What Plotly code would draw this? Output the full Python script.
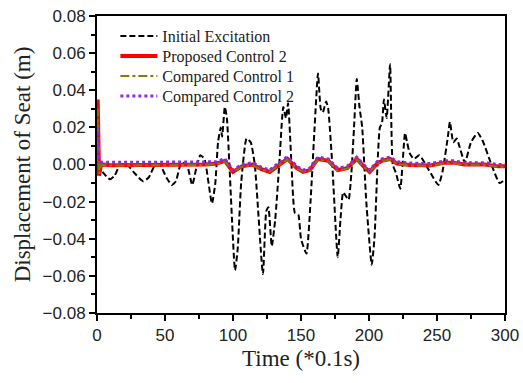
import plotly.graph_objects as go

# Initial excitation
t_exc = [0, 4, 9.5, 13, 17, 22, 28, 34, 38, 43, 47, 51, 55, 58, 62, 66, 70, 73, 76, 79,
         84.5, 87, 89, 91, 92, 94, 95.5, 101.5, 103.5, 106, 110, 113, 116, 122, 124.5, 126,
         128.5, 131, 134, 137, 139, 140.5, 143, 145.5, 148, 150, 154, 157, 160, 162.5, 164.5,
         166, 168.5, 170, 173, 177, 179, 181, 183, 185, 187, 189, 191, 193, 195, 198, 202,
         204, 206.5, 208, 209.5, 211, 213, 215.5, 217.5, 220, 223, 226.5, 228, 230, 233, 237,
         244, 251, 254, 258, 259.5, 262, 264.5, 266, 270.5, 275, 280, 284, 290, 296, 300]
v_exc = [0.0, -0.004, -0.008, -0.006, 0.0, 0.0, -0.005, -0.009, -0.007, 0.0, -0.001, -0.007,
         -0.011, -0.009, 0.001, 0.0, -0.011, -0.002, 0.005, 0.003,
         -0.021, -0.01, 0.012, 0.02, 0.015, 0.031, 0.025, -0.057, -0.045, -0.01, 0.014, 0.012,
         0.0, -0.059, -0.025, -0.023,
         -0.044, -0.03, 0.0, 0.031, 0.025, 0.033, 0.0, -0.026, -0.027, -0.04, -0.048, -0.02,
         0.02, 0.049, 0.03,
         0.028, 0.034, 0.03, 0.0, -0.05, -0.03, -0.015, -0.017, -0.019, -0.005, 0.02, 0.046,
         0.031, 0.02, -0.02, -0.054,
         -0.04, 0.004, 0.02, 0.022, 0.035, 0.025, 0.054, 0.0, -0.005, -0.013, 0.017, 0.012,
         0.006, 0.003, 0.005,
         -0.003, -0.011, -0.004, 0.015, 0.023, 0.012, 0.014, 0.011, 0.001, 0.012, 0.017, 0.012,
         0.0, -0.01, -0.008]

# Controlled responses
t_ctl = [0, 0.5, 1.5, 3, 10, 20, 30, 40, 50, 60, 70, 80, 88, 94, 100, 106.5, 114, 121, 127,
         133, 140, 147, 151.5, 156.5, 162.5, 170, 177, 184, 191, 196, 200.5, 206, 209.5, 215.5,
         220.5, 230, 245, 256, 262, 270, 285, 295, 300]
v_prop = [0.0, 0.035, -0.006, 0.0, -0.0004, -0.0003, -0.0005, -0.0003, -0.0005, -0.0003,
          -0.0002, 0.0, 0.0005, 0.002, -0.004, -0.001, 0.0, -0.0025, -0.004,
          -0.0005, 0.003, -0.002, -0.004, -0.003, 0.003, 0.002, -0.003, -0.002, 0.003, -0.001,
          -0.004, 0.0005, 0.002, 0.003,
          0.0005, -0.0003, -0.0005, 0.001, 0.001, 0.0, 0.0, -0.001, -0.001]
v_comp1 = [0.0, 0.03, -0.005, -0.0002, -0.0006, -0.0005, -0.0006, -0.0005, -0.0006, -0.0005,
           -0.0004, -0.0002, 0.0003, 0.0018, -0.0038, -0.0012, -0.0002, -0.0027, -0.0038,
           -0.0007, 0.0028, -0.0022, -0.0038, -0.0032, 0.0027, 0.0018, -0.0032, -0.0022, 0.0027,
           -0.0012, -0.0038, 0.0003, 0.0018, 0.0027,
           0.0003, -0.0005, -0.0007, 0.0008, 0.0008, -0.0002, -0.0002, -0.0012, -0.0012]
v_comp2 = [0.0, 0.02, 0.002, 0.0013, 0.0012, 0.0013, 0.0012, 0.0013, 0.0012, 0.0013,
           0.0013, 0.0013, 0.0015, 0.0032, -0.003, 0.0, 0.001, -0.0015, -0.003,
           0.0005, 0.0042, -0.001, -0.003, -0.002, 0.004, 0.003, -0.002, -0.001, 0.004, 0.0,
           -0.003, 0.0015, 0.003, 0.004,
           0.0015, 0.0008, 0.0005, 0.002, 0.002, 0.001, 0.001, 0.0, 0.0]

SERIF = "Liberation Serif, Times New Roman, serif"
SANS = "Liberation Sans, Arial, sans-serif"

fig = go.Figure()
fig.add_trace(go.Scatter(x=t_exc, y=v_exc, mode="lines", name="Initial Excitation",
                         line=dict(color="black", width=2, dash="6px,3px",
                                   shape="spline", smoothing=0.5), legend="legend"))
fig.add_trace(go.Scatter(x=t_ctl, y=v_prop, mode="lines", name="Proposed Control 2",
                         line=dict(color="#FF0000", width=4), legend="legend2"))
fig.add_trace(go.Scatter(x=t_ctl, y=v_comp1, mode="lines", name="Compared Control 1",
                         line=dict(color="#808000", width=2, dash="dashdot"), legend="legend3"))
fig.add_trace(go.Scatter(x=t_ctl, y=v_comp2, mode="lines", name="Compared Control 2",
                         line=dict(color="#8A2BE2", width=3, dash="dot"), legend="legend4"))

axis_common = dict(showline=True, linecolor="black", linewidth=2, mirror=True,
                   ticks="outside", ticklen=6, tickwidth=1.5, tickcolor="black",
                   showgrid=False, zeroline=False, automargin=False,
                   tickfont=dict(family=SANS, size=17, color="#222222"))

fig.update_xaxes(range=[0, 300], dtick=50, tick0=0,
                 minor=dict(dtick=25, ticks="outside", ticklen=4, tickcolor="black"),
                 title=dict(text="Time (*0.1s)", font=dict(family=SERIF, size=23, color="#222222"),
                            standoff=5),
                 **axis_common)
fig.update_yaxes(range=[-0.08, 0.08], dtick=0.02, tick0=0, tickformat=".2f",
                 minor=dict(dtick=0.01, ticks="outside", ticklen=4, tickcolor="black"),
                 title=dict(text="Displacement of Seat (m)",
                            font=dict(family=SERIF, size=23, color="#222222"),
                            standoff=6),
                 **axis_common)

leg = dict(x=0.045, xanchor="left", yanchor="middle", bgcolor="rgba(0,0,0,0)", borderwidth=0,
           font=dict(family=SERIF, size=16, color="#222222"), itemwidth=37)
fig.update_layout(
    width=523, height=383,
    margin=dict(l=97, r=18, t=16, b=70, autoexpand=False),
    paper_bgcolor="white", plot_bgcolor="white",
    showlegend=True,
    legend=dict(y=0.932, **leg),
    legend2=dict(y=0.865, **leg),
    legend3=dict(y=0.798, **leg),
    legend4=dict(y=0.730, **leg),
)

fig.write_html("out.html")
